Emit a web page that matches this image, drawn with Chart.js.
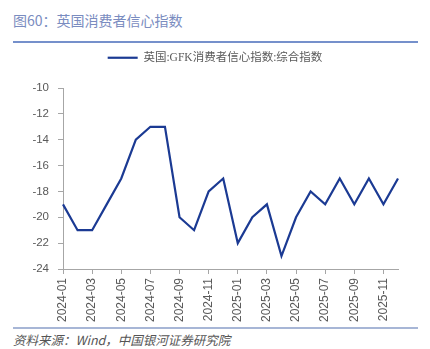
<!DOCTYPE html>
<html><head><meta charset="utf-8">
<script src="https://cdn.jsdelivr.net/npm/chart.js@4.4.1/dist/chart.umd.min.js"></script>
<style>
html,body{margin:0;padding:0;background:#fff;width:430px;height:349px;overflow:hidden;position:relative;}
#title{position:absolute;left:13px;top:10px;font:14px "Noto Sans CJK SC",sans-serif;color:#7a8cc0;white-space:nowrap;}
#tline{position:absolute;left:13px;top:41px;width:405px;height:2px;background:#7590cb;}
#fline{position:absolute;left:13px;top:327px;width:405px;height:2px;background:#a7b6d6;}
#foot{position:absolute;left:13px;top:330px;font:italic 12.5px "Noto Sans CJK SC",serif;color:#555;white-space:nowrap;}
#wrap{position:absolute;left:0;top:44px;width:430px;height:282px;}
</style></head><body>
<div id="title">图60：英国消费者信心指数</div>
<div id="tline"></div>
<div id="wrap"><canvas id="c" width="430" height="282"></canvas></div>
<div id="fline"></div>
<div id="foot">资料来源：Wind，中国银河证券研究院</div>
<script>
const categories = ['2024-01','2024-02','2024-03','2024-04','2024-05','2024-06','2024-07','2024-08','2024-09','2024-10','2024-11','2024-12',
  '2025-01','2025-02','2025-03','2025-04','2025-05','2025-06','2025-07','2025-08','2025-09','2025-10','2025-11','2025-12'];
const seriesName = '英国:GFK消费者信心指数:综合指数';
const gfkValues = [-19,-21,-21,-19,-17,-14,-13,-13,-20,-21,-18,-17,-22,-20,-19,-23,-20,-18,-19,-17,-19,-17,-19,-17];
const yMin = -24, yMax = -10, yStep = 2;

const axisColor = '#a6a6a6';
const yTickFont = {family:'"Liberation Sans", Arial, sans-serif', size:11.5};
const xTickFont = {family:'"Liberation Sans", Arial, sans-serif', size:12};

const legendSpacer = {
  id:'legendSpacer',
  afterInit(chart){
    const lg = chart.legend;
    if(!lg) return;
    const orig = lg.fit;
    lg.fit = function(){ orig.call(this); this.height += 14.5; };
  }
};

new Chart(document.getElementById('c'), {
  type:'line',
  data:{
    labels: categories,
    datasets:[{
      label: seriesName,
      data: gfkValues,
      borderColor:'#1b3a93',
      backgroundColor:'#1b3a93',
      borderWidth:2.2,
      pointRadius:0,
      pointHoverRadius:0,
      tension:0,
      fill:false
    }]
  },
  options:{
    responsive:false,
    animation:false,
    layout:{padding:{left:0,right:0,top:2,bottom:0}},
    plugins:{
      legend:{
        display:true,
        position:'top',
        labels:{
          usePointStyle:true,
          pointStyle:'line',
          pointStyleWidth:30,
          padding:6,
          color:'#595959',
          font:{family:'"Liberation Serif","Noto Sans CJK SC",serif', size:11.5}
        }
      },
      tooltip:{enabled:false}
    },
    scales:{
      x:{
        type:'category',
        offset:false,
        border:{display:true,color:axisColor,width:1},
        grid:{display:true,drawOnChartArea:false,drawTicks:true,tickLength:5,
          color:(ctx)=> (ctx.index % 2 === 0 ? axisColor : 'rgba(0,0,0,0)')},
        ticks:{autoSkip:false,maxRotation:90,minRotation:90,padding:4,color:'#595959',font:xTickFont,
          callback:function(v,i){ return i % 2 === 0 ? this.getLabelForValue(v) : ''; }},
        afterFit:(s)=>{ s.height = 57; }
      },
      y:{
        min:yMin,max:yMax,
        border:{display:true,color:axisColor,width:1},
        grid:{display:true,drawOnChartArea:false,drawTicks:true,tickLength:5,color:axisColor},
        ticks:{stepSize:yStep,padding:9,color:'#595959',font:yTickFont},
        afterFit:(s)=>{ s.width = 63; }
      },
      yRight:{
        position:'right',
        display:true,
        min:yMin,max:yMax,
        border:{display:false},
        grid:{display:false,drawTicks:false},
        ticks:{display:false},
        afterFit:(s)=>{ s.width = 32; }
      }
    }
  },
  plugins:[legendSpacer]
});
</script>
</body></html>
